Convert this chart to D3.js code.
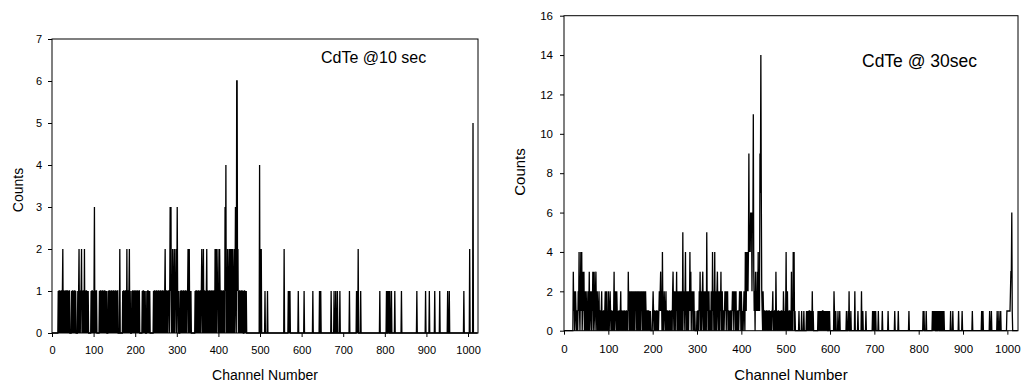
<!DOCTYPE html>
<html><head><meta charset="utf-8">
<script src="https://cdn.jsdelivr.net/npm/d3@7"></script>
<style>
body{margin:0;background:#fff}
svg{display:block}
text{font-family:"Liberation Sans",Arial,sans-serif;fill:#000}
</style>
</head><body>
<svg id="chart" width="1023" height="383"></svg>
<script>
// Counts per channel, 64 channels per row (one hex digit per channel)
const countsTenSec = [
  "00000000 00000001 01101011 01201101 01101101 01100001 01101011 01000010",
  "12010112 01011020 10110101 00000010 11010130 10110000 00101101 01101011",
  "01010001 01101011 01011010 11010110 00020000 00101101 01102011 01201000",
  "10110101 10101101 01100000 01011010 10001011 01010000 00001011 01011010",
  "11010110 10110101 20110101 11013130 10210120 11201310 10001011 01011010",
  "11010112 01201010 00000000 10110101 10101101 21012011 01012011 01011010",
  "11010110 20120112 01021011 01011010 31401021 01202102 10210120 13106612",
  "01011010 11010011 01010000 00000000 00000000 00000000 00040202 00000000",
  "10000010 00000000 00000000 00000000 00000000 00000020 00000000 10101000",
  "00000000 00000000 10000000 00000010 00000000 00000000 00010000 00000000",
  "00010010 00000000 00000000 00000001 00000010 00100010 00001000 00000000",
  "00000000 00010000 00000000 00001010 20000010 00000000 00000000 00000000",
  "00000000 00000000 00001000 00000000 00001001 01001000 10000000 10000000",
  "00000000 10000000 00000000 00000000 00000000 00000100 00000000 00000000",
  "00100000 00010000 00000000 10000000 00001000 00000000 00000001 00010000",
  "00000000 00000000 00000000 00000010 00000000 00002000 00005000 00000000"
];
const countsThirtySec = [
  "0000000000 0000000000 0312012101 1021410241 4013130210 2101201301 2102",
  "1301310231 0210120110 1201011012 0120102101 2101101013 0121021010 1101",
  "2011010110 1011010312 0210210210 2102120120 2102102120 1202102101 1011",
  "0101000012 1011010110 1012123120 4101210120 1101011010 1102310210 2130",
  "1201202102 1051201240 1201202141 3021201201 0000101102 1302102310 2102",
  "1051201201 1021041201 4021023102 1021301201 1012120212 0110101101 2120",
  "2120201011 0121202101 0121042142 4249454656 265b312031 2131412197 e721",
  "0210110101 1010110101 0112010110 3101011010 1011010210 1014012010 1101",
  "0301041401 0000000010 0000100001 0000010101 0110101020 1000000000 0101",
  "0101010110 1010101010 0101000000 0002100100 0010001000 0000000000 0100",
  "0102000100 0000002000 0001000000 0200100000 0100000000 0000001010 0101",
  "0000010000 0000100000 0000000100 0000000000 0010000000 1000000000 0000",
  "0000000000 1000000000 0000000000 0000000000 0010100001 0000000000 0001",
  "0101010010 0101001001 0010010000 0000000000 1000010000 0000000010 0000",
  "0010000000 0000000000 0000010000 0000000000 0000001001 0000000000 0000",
  "1000100000 0000000100 0100010000 0000000001 1111111233 6100000000 0000"
];
const xTickValues = [0,100,200,300,400,500,600,700,800,900,1000];
const yTicksTenSec = [0,1,2,3,4,5,6,7];
const yTicksThirtySec = [0,2,4,6,8,10,12,14,16];
const labelTenSec = "CdTe @10 sec";
const labelThirtySec = "CdTe @ 30sec";
const xTitle = "Channel Number";
const yTitle = "Counts";

function parseCounts(rows){
  return rows.map(r => r.replace(/\s+/g,"")).join("").split("")
    .map((c,i)=>({ch:i, v:parseInt(c,16)}));
}

const svg = d3.select("#chart");

const panels = [
  {data: parseCounts(countsTenSec), yTicks: yTicksTenSec, yMax:7, label: labelTenSec,
   left:52, right:478, top:39, bottom:333, fTick:11, fTitle:14, fLabel:16,
   labelX:321, labelY:63, xTitleX:265, xTitleY:380, yTitleX:23, yTitleY:190, xPad:9, yPad:6},
  {data: parseCounts(countsThirtySec), yTicks: yTicksThirtySec, yMax:16, label: labelThirtySec,
   left:564, right:1018, top:15.7, bottom:330.7, fTick:11.5, fTitle:15, fLabel:17.5,
   labelX:862, labelY:67, xTitleX:791, xTitleY:380, yTitleX:525, yTitleY:172, xPad:10, yPad:7}
];

panels.forEach(p => {
  const x = d3.scaleLinear().domain([0,1024]).range([p.left, p.right]);
  const y = d3.scaleLinear().domain([0,p.yMax]).range([p.bottom, p.top]);
  const g = svg.append("g");

  const line = d3.line().x(d=>x(d.ch)).y(d=>y(d.v));
  g.append("path").datum(p.data)
    .attr("d", line).attr("fill","none").attr("stroke","#000").attr("stroke-width",1.3);

  const fmt = d3.format("d");
  const xa = g.append("g").attr("transform",`translate(0,${p.bottom})`)
    .call(d3.axisBottom(x).tickValues(xTickValues).tickFormat(fmt).tickSize(4).tickPadding(p.xPad));
  const ya = g.append("g").attr("transform",`translate(${p.left},0)`)
    .call(d3.axisLeft(y).tickValues(p.yTicks).tickFormat(fmt).tickSize(4).tickPadding(p.yPad));
  [xa,ya].forEach(a=>{
    a.select(".domain").remove();
    a.selectAll("line").attr("stroke","#000");
    a.selectAll("text").attr("font-size",p.fTick).attr("font-family",'"Liberation Sans",Arial,sans-serif').attr("fill","#000");
  });

  g.append("rect").attr("x",p.left).attr("y",p.top)
    .attr("width",p.right-p.left).attr("height",p.bottom-p.top)
    .attr("fill","none").attr("stroke","#000").attr("stroke-width",1);

  g.append("text").attr("x",p.labelX).attr("y",p.labelY)
    .attr("font-size",p.fLabel).text(p.label);
  g.append("text").attr("x",p.xTitleX).attr("y",p.xTitleY)
    .attr("text-anchor","middle").attr("font-size",p.fTitle).text(xTitle);
  g.append("text").attr("transform",`translate(${p.yTitleX},${p.yTitleY}) rotate(-90)`)
    .attr("text-anchor","middle").attr("font-size",p.fTitle).text(yTitle);
});
</script>
</body></html>
